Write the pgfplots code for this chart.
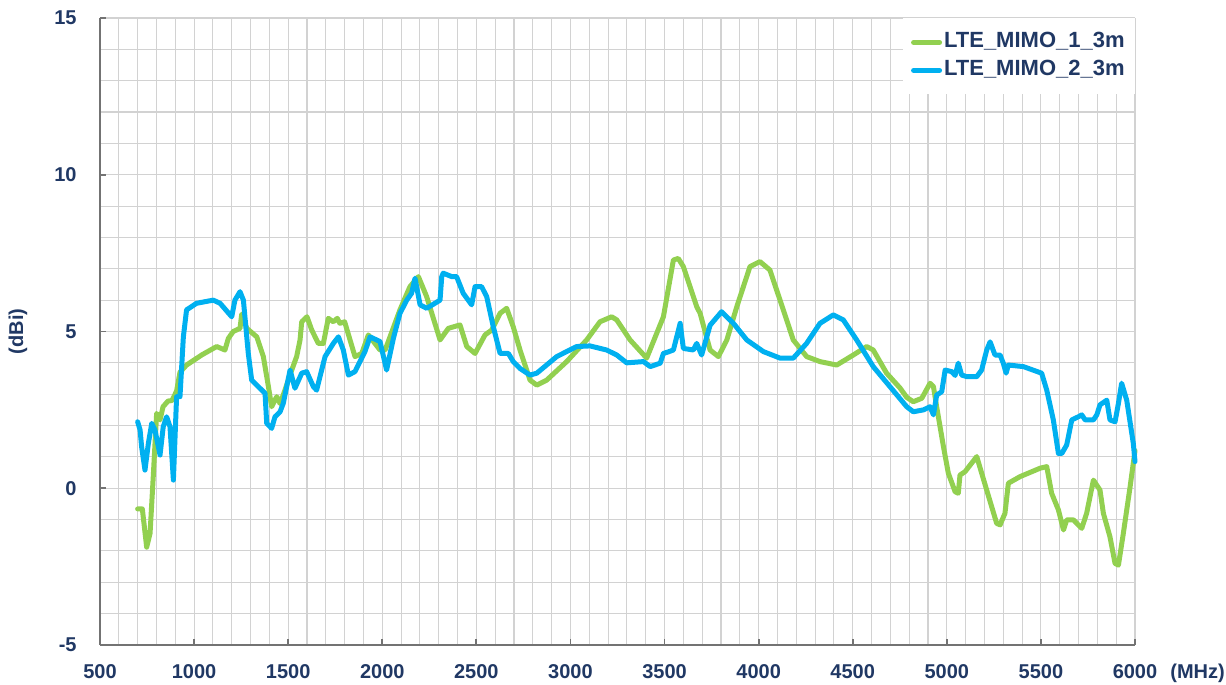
\documentclass[border=0pt]{standalone}
\usepackage{pgfplots}
\pgfplotsset{compat=1.18}
\usepackage{fontspec}
\setmainfont{Liberation Sans}
\definecolor{navy}{RGB}{32,56,100}
\definecolor{mgreen}{RGB}{146,208,80}
\definecolor{mblue}{RGB}{0,176,240}
\definecolor{gridc}{RGB}{210,210,210}
\begin{document}
\begin{tikzpicture}
\useasboundingbox (0,0) rectangle (613pt,342.5pt);
\begin{axis}[
  at={(50pt,20pt)}, anchor=south west,
  width=517.5pt, height=313.5pt, scale only axis,
  xmin=500, xmax=6000, ymin=-5, ymax=15,
  xtick={500,1000,...,6000},
  xticklabels={500,1000,1500,2000,2500,3000,3500,4000,4500,5000,5500,6000},
  ytick={-5,0,5,10,15},
  yticklabels={-5,0,5,10,15},
  minor x tick num=4, minor y tick num=4,
  grid=both,
  grid style={line width=0.55pt, gridc},
  minor grid style={line width=0.55pt, gridc},
  axis x line*=bottom, axis y line*=left,
  axis line style={line width=0.9pt, black!55},
  tick align=inside,
  major tick length=3pt, minor tick length=0pt,
  tick style={line width=0.9pt, black!55},
  ticklabel style={font=\fontsize{10}{12}\selectfont\bfseries, text=navy},
  xticklabel style={anchor=base, inner sep=0pt, yshift=-16.5pt},
  yticklabel style={anchor=east, inner sep=0pt, xshift=-11.5pt},
  legend style={at={(rel axis cs:1,1)}, anchor=north east, draw=none, fill=white,
    font=\fontsize{11}{13}\selectfont\bfseries, text=navy,
    inner xsep=4pt, inner ysep=5.5pt, row sep=1pt,
    nodes={inner sep=1pt, text height=8pt, text depth=3pt}},
  legend cell align=left,
  legend image code/.code={\draw[#1, line width=2.5pt] (0pt,0pt) -- (13pt,0pt);},
  clip=false,
]
\addplot[mgreen, line width=2.5pt, line join=round, line cap=round] coordinates {
(700,-0.66) (725,-0.66) (748,-1.88) (766,-1.44) (783,0.37) (801,2.39) (819,2.18) (835,2.6) (861,2.78) (883,2.8) (907,3.1) (925,3.7) (960,3.93) (1040,4.25) (1120,4.52) (1164,4.41) (1182,4.78) (1208,5.0) (1244,5.1) (1253,5.55) (1280,5.1) (1333,4.83) (1368,4.2) (1395,3.24) (1412,2.6) (1439,2.92) (1457,2.7) (1483,3.13) (1519,3.77) (1545,4.2) (1563,4.73) (1572,5.31) (1600,5.47) (1625,5.05) (1660,4.62) (1687,4.62) (1713,5.42) (1740,5.31) (1761,5.42) (1775,5.26) (1800,5.31) (1855,4.2) (1891,4.3) (1926,4.89) (1961,4.62) (1988,4.41) (2015,4.41) (2032,4.68) (2094,5.69) (2147,6.43) (2192,6.75) (2236,6.11) (2307,4.73) (2351,5.1) (2413,5.21) (2449,4.52) (2493,4.3) (2546,4.89) (2582,5.05) (2626,5.58) (2661,5.74) (2696,5.15) (2732,4.41) (2785,3.45) (2821,3.29) (2874,3.45) (2980,4.04) (3086,4.73) (3157,5.31) (3219,5.47) (3246,5.37) (3317,4.73) (3405,4.15) (3494,5.47) (3547,7.28) (3573,7.33) (3600,7.07) (3671,5.79) (3689,5.58) (3742,4.41) (3786,4.2) (3831,4.73) (3884,5.79) (3954,7.07) (4007,7.23) (4060,6.96) (4131,5.69) (4184,4.73) (4255,4.2) (4326,4.04) (4415,3.93) (4503,4.25) (4574,4.52) (4609,4.41) (4680,3.67) (4751,3.2) (4787,2.9) (4822,2.76) (4867,2.87) (4911,3.35) (4929,3.24) (4946,2.6) (4982,1.33) (5008,0.48) (5044,-0.11) (5061,-0.16) (5070,0.42) (5097,0.53) (5159,1.01) (5212,-0.06) (5265,-1.12) (5283,-1.17) (5309,-0.8) (5327,0.16) (5389,0.37) (5496,0.64) (5531,0.69) (5557,-0.16) (5593,-0.69) (5620,-1.33) (5637,-1.01) (5673,-1.01) (5717,-1.28) (5743,-0.8) (5779,0.26) (5814,-0.06) (5832,-0.8) (5867,-1.55) (5894,-2.4) (5912,-2.45) (5938,-1.44) (5974,0.05) (6000,1.2)
};
\addlegendentry{LTE\_MIMO\_1\_3m}
\addplot[mblue, line width=2.5pt, line join=round, line cap=round] coordinates {
(700,2.12) (713,1.86) (721,1.33) (739,0.58) (757,1.43) (775,2.07) (792,1.86) (819,1.06) (836,1.96) (854,2.28) (872,1.96) (890,0.26) (907,2.92) (925,2.92) (943,4.83) (960,5.69) (1013,5.9) (1102,6.0) (1138,5.9) (1200,5.47) (1217,6.0) (1244,6.27) (1262,6.0) (1288,4.3) (1306,3.45) (1350,3.19) (1377,3.03) (1386,2.07) (1412,1.91) (1430,2.28) (1457,2.44) (1474,2.71) (1510,3.77) (1536,3.19) (1572,3.67) (1598,3.72) (1634,3.24) (1651,3.13) (1696,4.2) (1740,4.62) (1767,4.83) (1793,4.41) (1820,3.61) (1855,3.72) (1908,4.36) (1935,4.83) (1988,4.68) (2023,3.77) (2059,4.78) (2094,5.58) (2130,6.0) (2156,6.22) (2174,6.7) (2201,5.85) (2236,5.74) (2307,6.0) (2316,6.75) (2324,6.86) (2369,6.75) (2395,6.75) (2430,6.22) (2475,5.85) (2493,6.43) (2528,6.43) (2555,6.11) (2590,5.15) (2626,4.3) (2670,4.3) (2696,4.04) (2732,3.82) (2785,3.61) (2821,3.67) (2927,4.2) (3033,4.52) (3104,4.54) (3192,4.41) (3246,4.25) (3299,4.0) (3388,4.04) (3424,3.88) (3477,3.99) (3494,4.3) (3520,4.35) (3547,4.41) (3583,5.26) (3600,4.46) (3653,4.41) (3671,4.62) (3697,4.25) (3742,5.2) (3803,5.63) (3866,5.26) (3937,4.73) (4025,4.36) (4114,4.15) (4184,4.15) (4255,4.62) (4326,5.26) (4397,5.53) (4450,5.37) (4521,4.73) (4609,3.88) (4698,3.24) (4787,2.6) (4822,2.44) (4876,2.5) (4911,2.6) (4929,2.34) (4946,2.97) (4973,3.08) (4991,3.77) (5026,3.72) (5044,3.6) (5061,3.99) (5079,3.61) (5106,3.56) (5159,3.56) (5185,3.77) (5212,4.41) (5230,4.67) (5256,4.25) (5283,4.25) (5300,3.99) (5315,3.67) (5327,3.93) (5407,3.88) (5504,3.67) (5531,3.13) (5566,2.18) (5593,1.11) (5611,1.11) (5637,1.38) (5664,2.18) (5699,2.28) (5717,2.34) (5735,2.18) (5779,2.18) (5797,2.34) (5814,2.66) (5850,2.81) (5867,2.18) (5894,2.12) (5912,2.71) (5929,3.35) (5956,2.81) (5991,1.43) (6000,0.85)
};
\addlegendentry{LTE\_MIMO\_2\_3m}
\node[anchor=base west, inner sep=0pt, font=\fontsize{10}{12}\selectfont\bfseries, text=navy, xshift=17.5pt, yshift=-16.5pt] at (rel axis cs:1,0) {(MHz)};
\node[rotate=90, anchor=center, inner sep=0pt, font=\fontsize{10}{12}\selectfont\bfseries, text=navy] at ([xshift=-41pt]rel axis cs:0,0.5) {(dBi)};
\end{axis}
\end{tikzpicture}
\end{document}
